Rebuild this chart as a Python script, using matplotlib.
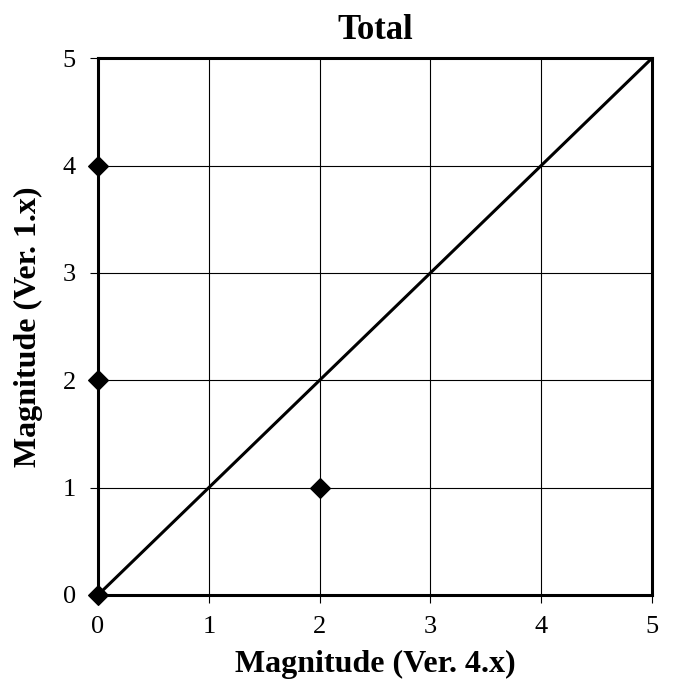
import matplotlib
matplotlib.use("Agg")
import matplotlib.pyplot as plt

# Magnitude comparisons between program versions
mag_v4 = [0, 0, 0, 2]
mag_v1 = [0, 2, 4, 1]

# Reference line of equal magnitude
line_x = [0, 5]
line_y = [0, 5]

ticks = [0, 1, 2, 3, 4, 5]

plt.rcParams['font.family'] = ['Liberation Serif', 'DejaVu Serif']

fig = plt.figure(figsize=(6.74, 6.90), dpi=100)
ax = fig.add_axes([0.1454, 0.1377, 0.822, 0.778])

ax.grid(True, color='black', linewidth=0.8)
ax.set_axisbelow(True)
ax.plot(line_x, line_y, color='black', linewidth=2.2, zorder=3)
ax.scatter(mag_v4, mag_v1, marker='D', s=100, color='black', zorder=4, clip_on=False)

ax.set_xlim(0, 5)
ax.set_ylim(0, 5)
ax.set_xticks(ticks)
ax.set_yticks(ticks)
ax.tick_params(axis='x', length=6, width=0.8, pad=9, labelsize=19)
ax.tick_params(axis='y', length=6, width=0.8, pad=10, labelsize=19)

for s in ax.spines.values():
    s.set_linewidth(2.2)

ax.set_title('Total', fontsize=25, fontweight='bold', pad=14)
ax.set_xlabel('Magnitude (Ver. 4.x)', fontsize=23, fontweight='bold', va='center')
ax.set_ylabel('Magnitude (Ver. 1.x)', fontsize=23, fontweight='bold', va='center')
ax.xaxis.set_label_coords(0.5, -0.13)
ax.yaxis.set_label_coords(-0.126, 0.5)

fig.savefig('out.png', dpi=100)
